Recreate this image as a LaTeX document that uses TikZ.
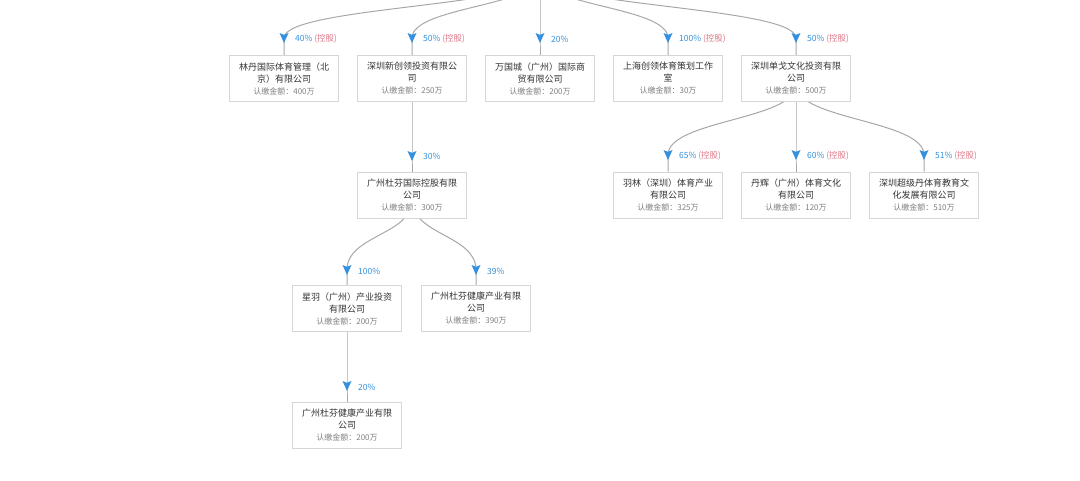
\documentclass[tikz,border=0pt]{standalone}
\usepackage{fontspec}
\setmainfont{Noto Sans CJK SC}
\usetikzlibrary{calc,backgrounds}
\definecolor{txt}{HTML}{333333}
\definecolor{amt}{HTML}{808080}
\definecolor{pct}{HTML}{3591DD}
\definecolor{ctl}{HTML}{E0788A}
\definecolor{lnk}{HTML}{A8A8A8}
\definecolor{bdr}{HTML}{D6D6D6}
\newcommand\amtline[1]{{\fontsize{8}{12}\selectfont\color{amt}#1}}
\newcommand\ctlmark{\ {\color{ctl}(控股)}}
\begin{document}
\begin{tikzpicture}[x=1pt,y=-1pt,
 box/.style={draw=bdr, fill=white, line width=0.8pt, minimum width=109pt, minimum height=46pt, align=center, inner sep=0pt, font=\fontsize{9}{12}\selectfont, text=txt},
 link/.style={draw=lnk, line width=1pt},
 lbl/.style={anchor=west, font=\fontsize{8.5}{10}\selectfont, text=pct, inner sep=0pt},
 tipshape/.pic={\fill[pct] (-4.5,-5) -- (0,-3.2) -- (4.5,-5) -- (0,5) -- cycle;}
]
\useasboundingbox (0,0) rectangle (1080,480);

% boxes
\node[box] (b1) at (284,78.5) {林丹国际体育管理（北\\京）有限公司\\\amtline{认缴金额：400万}};
\node[box] (b2) at (412,78.5) {深圳新创领投资有限公\\司\\\amtline{认缴金额：250万}};
\node[box] (b3) at (540,78.5) {万国城（广州）国际商\\贸有限公司\\\amtline{认缴金额：200万}};
\node[box] (b4) at (668,78.5) {上海创领体育策划工作\\室\\\amtline{认缴金额：30万}};
\node[box] (b5) at (796,78.5) {深圳单戈文化投资有限\\公司\\\amtline{认缴金额：500万}};
\node[box] (bg) at (412,195) {广州杜芬国际控股有限\\公司\\\amtline{认缴金额：300万}};
\node[box] (ba) at (668,195) {羽林（深圳）体育产业\\有限公司\\\amtline{认缴金额：325万}};
\node[box] (bb) at (796,195) {丹辉（广州）体育文化\\有限公司\\\amtline{认缴金额：120万}};
\node[box] (bc) at (924,195) {深圳超级丹体育教育文\\化发展有限公司\\\amtline{认缴金额：510万}};
\node[box] (bd) at (347,308.5) {星羽（广州）产业投资\\有限公司\\\amtline{认缴金额：200万}};
\node[box] (be) at (476,308.5) {广州杜芬健康产业有限\\公司\\\amtline{认缴金额：390万}};
\node[box] (bf) at (347,425) {广州杜芬健康产业有限\\公司\\\amtline{认缴金额：200万}};

% arrow points
\coordinate (root) at (540,-25);
\coordinate (k1) at (284,38);
\coordinate (k2) at (412,38);
\coordinate (k3) at (540,38);
\coordinate (k4) at (668,38);
\coordinate (k5) at (796,38);
\coordinate (kg) at (412,156);
\coordinate (s5) at (796,85);
\coordinate (ka) at (668,155);
\coordinate (kb) at (796,155);
\coordinate (kc) at (924,155);
\coordinate (sg) at (412,200);
\coordinate (kd) at (347,270);
\coordinate (ke) at (476,270);
\coordinate (kf) at (347,386);

\begin{scope}[on background layer]
\fill[white] (0,0) rectangle (1080,480);
\foreach \k/\b in {k1/b1,k2/b2,k3/b3,k4/b4,k5/b5}{
  \draw[link] (root) .. controls ($(root)+(0,31.5)$) and ($(\k)+(0,-31.5)$) .. (\k) -- (\b.north);
}
\foreach \k/\b in {ka/ba,kb/bb,kc/bc}{
  \draw[link] (s5) .. controls ($(s5)+(0,35)$) and ($(\k)+(0,-35)$) .. (\k) -- (\b.north);
}
\foreach \k/\b in {kd/bd,ke/be}{
  \draw[link] (sg) .. controls ($(sg)+(0,35)$) and ($(\k)+(0,-35)$) .. (\k) -- (\b.north);
}
\draw[link] (b2.south) -- (kg) -- (bg.north);
\draw[link] (bd.south) -- (kf) -- (bf.north);
\end{scope}

% arrow tips
\foreach \k in {k1,k2,k3,k4,k5,kg,ka,kb,kc,kd,ke,kf}{
  \pic at (\k) {tipshape};
}

% labels
\node[lbl] (l1) at ($(k1)+(11,1)$) {40\%\ctlmark};
\node[lbl] (l2) at ($(k2)+(11,1)$) {50\%\ctlmark};
\node[lbl] (l3) at ($(k3)+(11,1)$) {20\%};
\node[lbl] (l4) at ($(k4)+(11,1)$) {100\%\ctlmark};
\node[lbl] (l5) at ($(k5)+(11,1)$) {50\%\ctlmark};
\node[lbl] (lg) at ($(kg)+(11,0)$) {30\%};
\node[lbl] (la) at ($(ka)+(11,1)$) {65\%\ctlmark};
\node[lbl] (lb) at ($(kb)+(11,1)$) {60\%\ctlmark};
\node[lbl] (lc) at ($(kc)+(11,1)$) {51\%\ctlmark};
\node[lbl] (ld) at ($(kd)+(11,1)$) {100\%};
\node[lbl] (le) at ($(ke)+(11,1)$) {39\%};
\node[lbl] (lf) at ($(kf)+(11,1)$) {20\%};
\end{tikzpicture}
\end{document}
